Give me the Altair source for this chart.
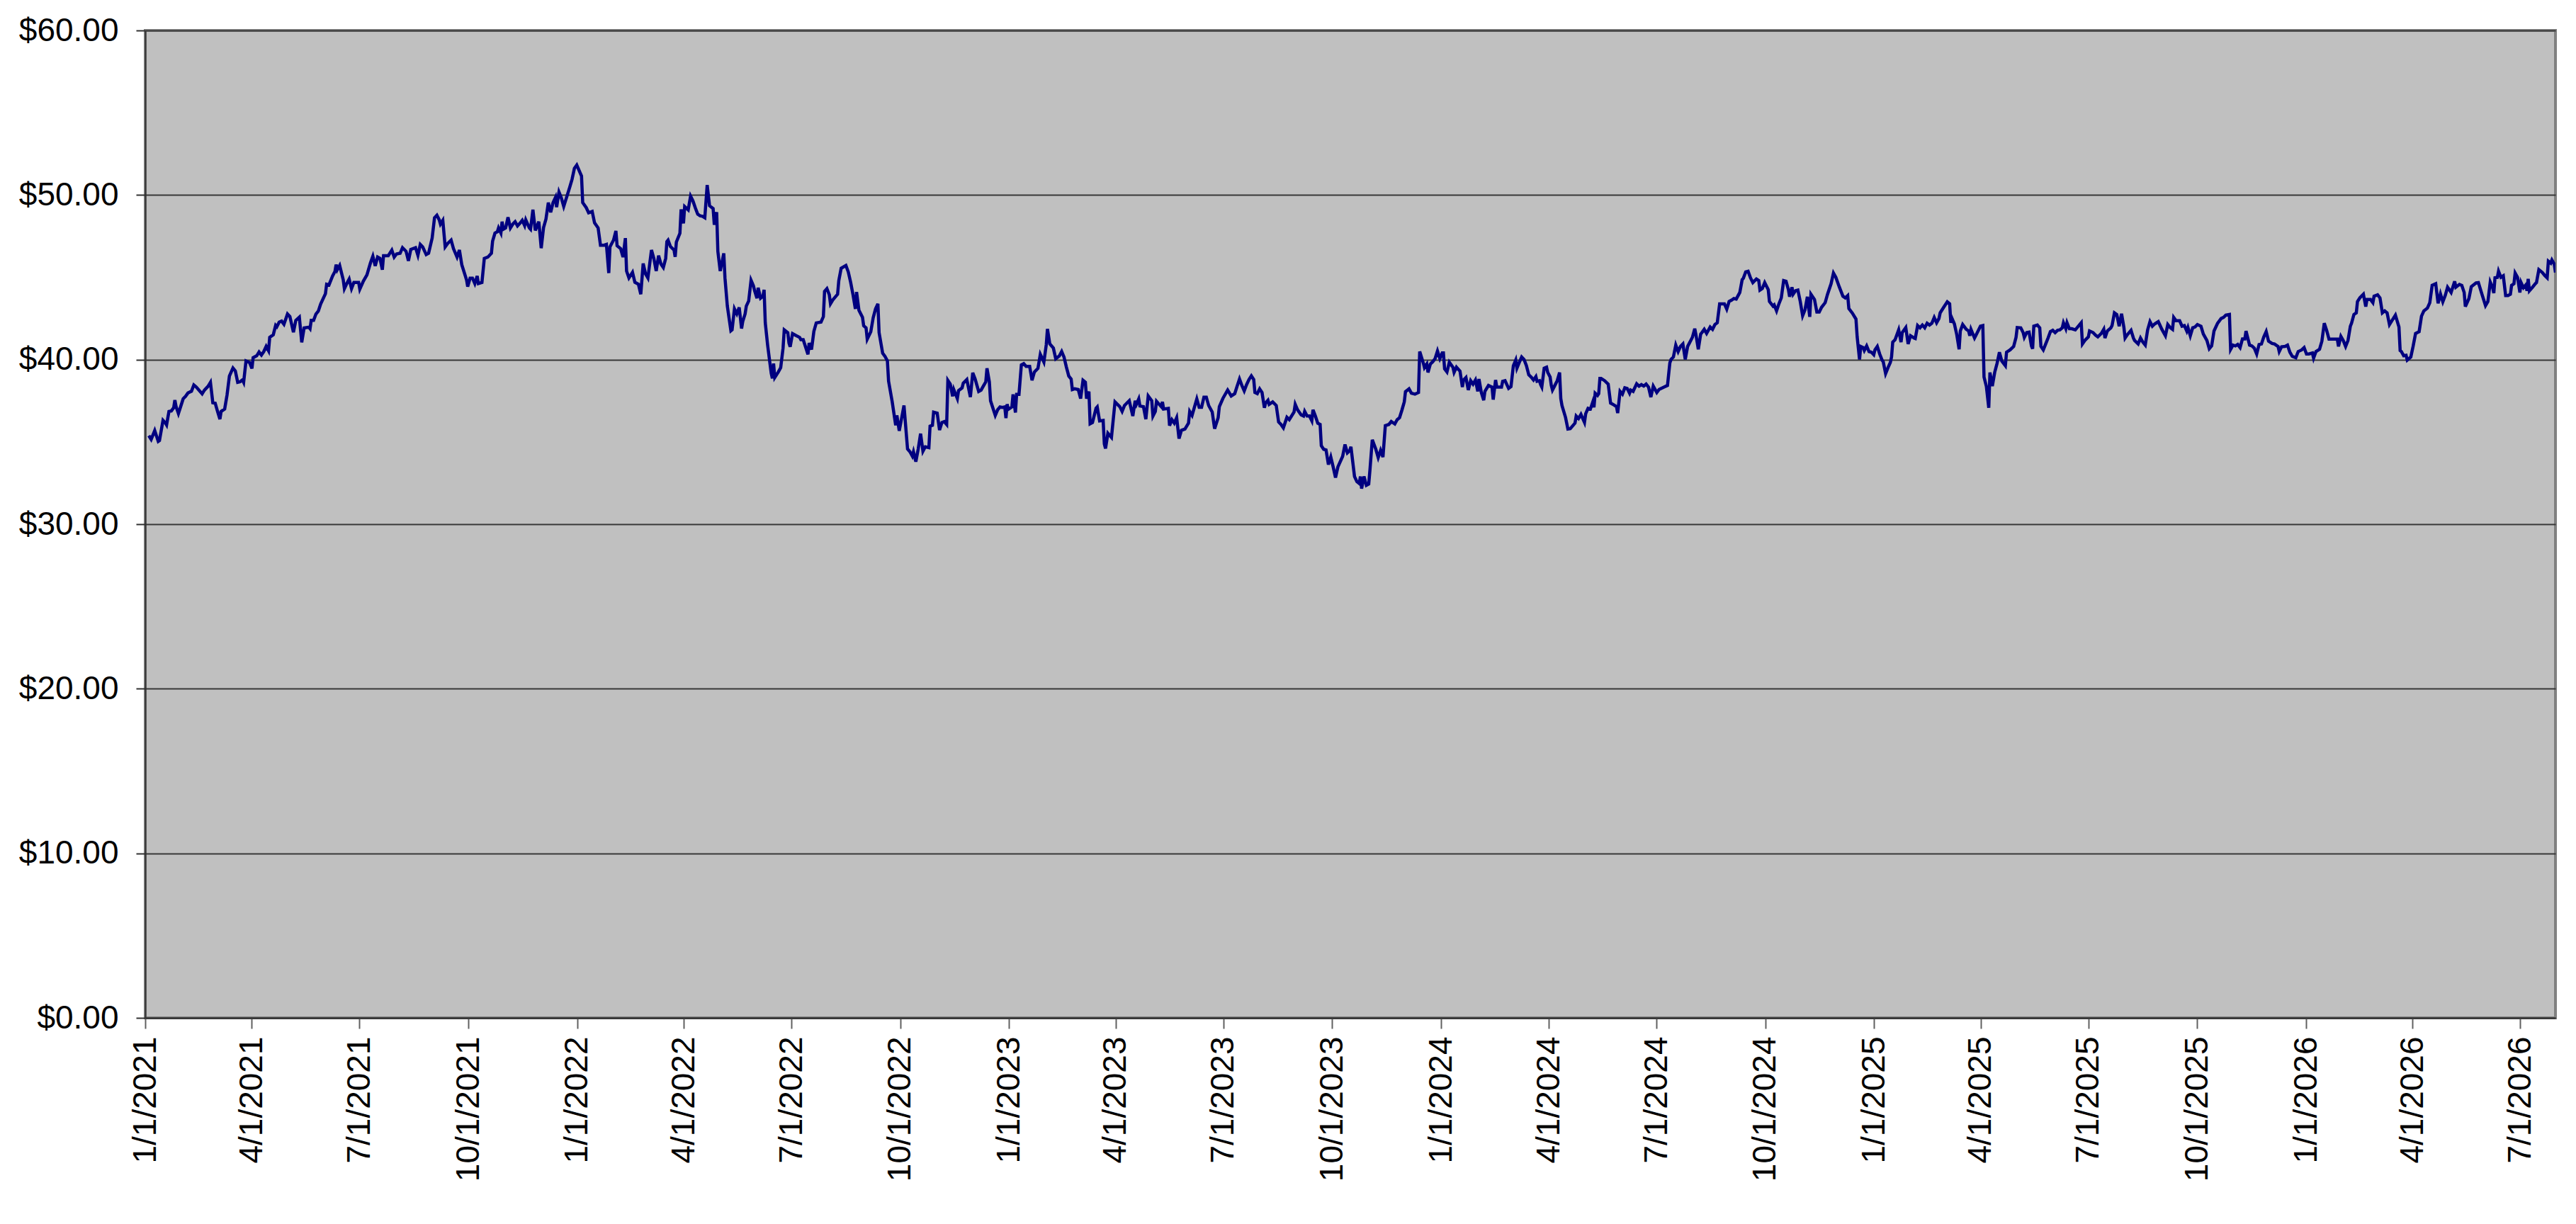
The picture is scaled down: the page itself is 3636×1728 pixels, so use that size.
import altair as alt
import pandas as pd

# Day offsets from 1/1/2021 and prices (five stretches)
days_a = [3,5,8,11,12,15,17,18,20,22,24,25,26,28,32,34,36,39,41,43,48,50,53,55,57,59,61,63,64,67,
          69,71,74,76,78,80,82,83,85,88,90,91,94,96,98,100,102,104,105,108,110,111,113,115,117,120,122,125,127,130,
          132,134,138,139,140,142,144,146,148,152,153,155,158,160,161,162,164,167,168,170,172,174,176,180,181,184,187,190,192,194,
          196,198,200,201,205,208,210,212,215,217,220,222,224,228,230,232,234,237,239,242,244,246,248,249,251,253,255,258,260,263,
          265,267,270,271,272,274,276,278,280,281,284,286,289,292,293,295,297,298,300,301,302,304,306,308,310,312,314,316,318,320,
          321,324,325,327,329,332,334,336,338,340,342,344,346,347,349,351,353,356,358,360,362,364,368,369,372,374,377,379,382,384,
          387,389,391,392,395,397,398,401,403]
price_a = [35.38,35.15,35.69,35.03,35.08,36.31,36.15,36.03,36.85,36.88,37.08,37.54,37.15,36.72,37.62,37.77,37.97,38.08,38.46,38.34,
           37.92,38.15,38.38,38.62,37.38,37.35,36.85,36.38,36.85,37.0,37.85,39.0,39.49,39.31,38.62,38.65,38.77,38.62,39.92,39.82,
           39.46,40.12,40.23,40.46,40.28,40.49,40.8,40.54,41.35,41.51,42.08,42.0,42.28,42.34,42.15,42.77,42.62,41.66,42.38,42.58,
           41.05,41.92,41.97,41.88,42.38,42.38,42.77,42.95,43.38,44.0,44.58,44.54,45.08,45.35,45.77,45.46,45.72,44.85,44.31,44.62,
           44.89,44.31,44.69,44.69,44.28,44.77,45.15,45.88,46.28,45.69,46.23,46.15,45.46,46.31,46.31,46.65,46.23,46.42,46.46,46.8,
           46.58,46.0,46.69,46.8,46.34,47.0,46.85,46.38,46.46,47.38,48.62,48.77,48.49,48.23,48.46,46.85,47.05,47.26,46.74,46.23,
           46.66,45.77,45.08,44.85,44.43,44.95,44.95,44.62,45.08,44.62,44.69,46.15,46.23,46.46,47.2,47.69,47.77,48.0,47.69,48.38,
           47.92,48.0,48.65,48.0,48.23,48.38,48.12,48.28,48.46,48.15,48.49,48.0,47.92,49.11,47.85,48.38,46.77,48.03,48.54,49.54,
           48.95,49.54,49.85,49.26,50.18,49.82,49.31,50.0,50.46,50.95,51.62,51.82,51.15,49.54,49.23,48.92,49.0,48.31,48.0,46.95,
           46.95,47.0,45.26,46.85,47.26,47.82,46.92,46.74,46.23]

days_b = [405,406,408,411,413,416,418,420,422,424,427,429,431,433,435,437,439,440,441,443,
          446,447,448,451,452,454,455,458,460,462,464,466,468,470,472,474,476,479,480,482,
          483,485,488,489,491,494,495,497,499,501,503,504,506,507,509,511,513,514,516,517,
          519,521,522,523,525,528,529,530,531,534,536,538,539,542,543,544,546,549,552,553,
          555,559,560,562,564,566,570,572,573,575,577,578,580,584,585,587,591,593,595,597,
          599,600,602,605,606,608,609,612,614,616,618,619,622,624,626,627,630,633,634,636,
          638,640,643,645,647,648,650,652,654,656,658,661,662,664,665,668,670,672,674,676,
          677,679,681,682,685,686,689,690,693,696,698,700,703,705,707,709,710,712,713,717,
          719,721,723,725,726,727,728,731,732,734,735,737,739,741,743,746,748,750,753,755,
          758,760,761,763,766,768,771,773,775,777,779,781,782,784,787,789,791,793,794,796,
          797,799,802,803,805,808,809,810]
price_b = [47.38,45.38,44.96,45.3,44.7,44.58,43.97,45.84,45.21,44.96,46.66,46.15,45.38,46.32,45.81,45.6,46.15,47.17,47.26,46.87,
           46.66,46.24,47.14,47.68,49.13,48.28,49.3,49.1,49.93,49.64,49.22,48.84,48.74,48.71,48.62,50.61,49.35,49.18,48.19,48.96,
           46.58,45.38,46.46,44.96,43.25,41.75,41.81,43.08,42.78,43.17,41.89,42.32,42.78,43.25,43.56,44.82,44.48,44.19,43.73,44.36,
           43.73,43.85,44.24,42.23,40.87,39.17,38.86,39.76,38.91,39.25,39.51,40.7,41.81,41.64,41.01,40.78,41.58,41.46,41.35,41.21,
           41.21,40.32,41.01,40.61,41.72,42.23,42.28,42.61,44.14,44.31,43.94,43.39,43.63,43.97,44.79,45.55,45.72,45.33,44.7,43.94,
           43.08,44.11,43.0,42.57,42.06,41.93,41.24,41.69,42.54,43.08,43.39,41.64,40.39,40.19,39.93,38.69,37.46,36.01,36.61,35.67,
           36.44,37.21,34.57,34.4,34.14,34.4,33.8,34.57,35.5,34.43,34.7,34.65,35.96,36.01,36.81,36.75,35.72,36.18,36.23,36.06,
           38.74,38.52,37.77,38.18,37.63,38.11,38.28,38.57,38.79,37.72,39.2,38.82,38.06,38.14,38.4,38.65,39.47,38.65,37.5,36.61,
           36.95,37.12,37.09,37.12,36.44,37.29,36.98,37.12,37.89,36.78,37.89,37.89,39.68,39.76,39.59,39.59,38.74,39.25,39.47,40.32,
           39.85,40.9,41.86,40.95,40.7,40.05,40.22,40.49,40.15,39.54,39.0,38.82,38.18,38.23,38.18,37.63,38.74,38.62,37.63,38.06,
           36.1,36.18,37.04,37.12,36.27,36.3,34.87,34.6]

days_c = [812,815,818,822,824,826,828,830,833,835,836,838,839,842,844,846,849,850,852,853,
          857,858,859,863,864,866,868,870,872,874,877,880,881,883,887,889,891,893,895,897,
          900,902,905,906,909,913,916,919,921,923,925,927,929,931,933,935,936,938,940,942,
          944,945,947,948,951,954,956,958,960,963,965,969,970,972,975,977,978,980,982,984,
          985,987,989,991,992,994,996,998,1000,1002,1004,1006,1010,1012,1014,1016,1017,1020,1022,1024,
          1025,1026,1028,1030,1032,1033,1035,1038,1040,1042,1044,1046,1049,1051,1054,1056,1058,1060,1062,1063,
          1066,1068,1071,1074,1075,1078,1079,1081,1082,1084,1086,1088,1090,1092,1094,1095,1096,1098,1100,1103,
          1104,1106,1109,1111,1112,1114,1116,1118,1120,1122,1124,1125,1127,1129,1130,1133,1136,1137,1139,1140,
          1144,1145,1147,1150,1152,1154,1156,1157,1159,1161,1163,1165,1167,1169,1171,1173,1174,1176,1177,1178,
          1180,1182,1183,1185,1186,1187,1189,1191,1193,1194,1195,1198,1200,1202,1206,1207,1209,1211,1214,1215,
          1217,1219,1221,1222,1223,1225,1226,1227]
price_c = [35.52,35.27,37.43,37.14,36.85,37.21,37.36,37.5,36.57,37.5,37.28,37.61,37.18,37.14,36.38,37.79,37.5,36.57,36.85,37.47,
           37.14,37.43,37.0,37.04,35.99,36.35,36.14,36.47,35.2,35.7,35.78,36.14,36.85,36.61,37.61,37.1,37.1,37.72,37.72,37.21,
           36.81,35.8,36.47,37.14,37.64,38.15,37.79,37.93,38.39,38.82,38.43,38.1,38.48,38.79,39.01,38.79,38.0,37.93,38.22,38.0,
           37.07,37.36,37.53,37.28,37.43,37.21,36.21,36.06,35.85,36.49,36.35,36.81,37.28,36.95,36.64,36.57,36.85,36.57,36.57,36.28,
           36.95,36.57,36.14,36.06,34.77,34.55,34.51,33.62,34.08,33.48,32.83,33.48,34.12,34.84,34.34,34.48,34.7,32.9,32.59,32.47,
           32.9,32.16,32.9,32.36,32.44,33.26,35.13,34.55,34.05,34.48,34.08,35.99,36.06,36.24,36.09,36.35,36.47,36.93,37.43,38.05,
           38.22,37.96,37.9,38.0,40.49,39.8,39.51,39.73,39.22,39.73,39.87,40.06,40.52,40.06,40.4,40.4,39.44,39.25,39.84,39.54,
           39.22,39.54,39.3,38.33,38.76,38.91,38.15,38.72,38.51,38.76,38.07,38.82,38.0,37.53,38.07,38.43,38.33,37.57,38.76,38.33,
           38.33,38.68,38.72,38.25,38.36,39.63,39.97,39.48,39.83,40.16,40.01,39.63,39.08,38.94,38.76,38.97,38.68,38.72,38.48,38.33,
           39.48,39.54,39.22,38.94,38.43,38.15,38.43,38.72,39.22,37.64,37.21,36.49,35.78,35.8,36.14,36.57,36.42,36.67,36.18,36.71,
           37.04,37.0,37.43,37.1,37.96,37.82,37.93,38.86]

days_d = [1228,1231,1234,1236,1239,1241,1242,1244,1246,1248,1250,1252,1253,1255,1258,1260,1262,1264,1266,1268,
          1270,1272,1275,1277,1281,1284,1286,1287,1289,1291,1293,1295,1297,1299,1301,1304,1305,1307,1308,1310,
          1312,1313,1315,1317,1320,1322,1324,1326,1328,1331,1332,1334,1336,1338,1340,1342,1345,1347,1348,1350,
          1352,1354,1356,1359,1361,1362,1364,1366,1369,1370,1373,1374,1376,1378,1380,1382,1384,1386,1387,1389,
          1390,1392,1394,1396,1398,1400,1402,1404,1405,1408,1410,1412,1414,1417,1419,1422,1424,1426,1429,1432,
          1434,1436,1437,1440,1443,1444,1446,1447,1449,1450,1452,1454,1456,1458,1459,1461,1463,1465,1466,1468,
          1470,1472,1473,1474,1476,1479,1481,1482,1485,1487,1489,1492,1493,1495,1497,1499,1501,1503,1505,1507,
          1509,1511,1513,1514,1517,1520,1522,1523,1524,1526,1528,1530,1531,1533,1536,1538,1539,1540,1543,1544,
          1546,1548,1550,1551,1553,1555,1556,1558,1560,1562,1564,1566,1569,1570,1573,1576,1578,1579,1582,1584,
          1585,1587,1589,1591,1592,1593,1596,1598,1599,1601,1603,1605,1607,1609,1611,1613,1615,1617,1618,1620,
          1621,1623,1625,1628,1630,1633,1634]
price_d = [38.86,38.72,38.51,37.36,37.24,37.14,36.75,38.07,37.9,38.29,38.25,37.96,38.15,38.07,38.53,38.39,38.48,38.39,38.51,38.33,
           37.72,38.39,38.0,38.19,38.33,38.43,39.8,40.01,40.16,40.88,40.49,40.8,40.95,40.01,40.8,41.21,41.35,41.88,41.52,40.63,
           41.55,41.64,41.84,41.59,41.98,41.84,42.13,42.24,43.39,43.39,43.39,43.07,43.53,43.61,43.71,43.68,44.08,44.86,44.94,45.33,
           45.37,44.97,44.68,44.9,44.8,44.22,44.32,44.68,44.25,43.53,43.25,43.32,42.96,43.39,43.75,44.8,44.76,44.25,43.82,44.4,
           43.97,44.18,44.22,43.53,42.67,43.03,43.82,42.6,43.97,43.65,42.89,42.89,43.18,43.46,43.97,44.61,45.26,45.0,44.4,43.85,
           43.75,43.89,43.1,42.82,42.46,41.38,40.01,40.8,40.73,40.55,40.83,40.49,40.45,40.3,40.59,40.8,40.34,39.97,39.87,39.15,
           39.51,39.83,40.16,41.06,41.21,41.81,41.06,41.64,41.95,40.95,41.45,41.31,41.28,42.07,41.93,42.1,41.93,42.21,42.1,42.21,
           42.56,42.24,42.5,42.84,43.18,43.51,43.39,42.24,42.5,42.17,41.52,40.63,41.74,42.13,41.84,41.74,41.45,41.84,41.31,41.45,
           41.74,42.03,42.07,38.94,38.36,37.07,39.22,38.39,39.22,39.77,40.45,39.91,39.63,40.45,40.59,40.8,41.35,41.95,41.93,41.64,
           41.35,41.64,41.67,40.83,40.66,42.03,42.1,41.93,40.8,40.59,40.95,41.31,41.7,41.78,41.64,41.78,41.81,41.93,42.24,41.88,
           42.24,41.88,41.88,41.81,41.98,42.24,40.95]

days_e = [1636,1639,1640,1643,1645,1647,1650,1652,1653,1655,1658,1659,1661,1663,1665,1667,1669,1670,1672,1675,
          1677,1678,1681,1683,1685,1687,1689,1691,1693,1695,1698,1701,1704,1706,1708,1710,1711,1713,1716,1718,
          1720,1722,1723,1725,1727,1729,1731,1734,1736,1739,1741,1743,1745,1748,1751,1753,1755,1758,1759,1761,
          1763,1765,1767,1769,1771,1772,1775,1777,1779,1781,1783,1785,1787,1789,1791,1794,1796,1799,1800,1802,
          1805,1807,1809,1811,1814,1816,1819,1821,1823,1825,1828,1829,1831,1834,1836,1838,1840,1842,1844,1847,
          1849,1850,1852,1854,1856,1858,1860,1861,1863,1865,1866,1868,1871,1873,1874,1877,1879,1880,1883,1885,
          1887,1889,1891,1893,1895,1898,1901,1902,1903,1905,1907,1908,1911,1913,1915,1918,1920,1922,1925,1927,
          1929,1932,1934,1936,1938,1940,1942,1945,1948,1949,1952,1954,1956,1957,1960,1962,1966,1968,1971,1974,
          1976,1978,1980,1981,1982,1984,1985,1987,1989,1991,1993,1995,1996,1998,1999,2001,2003,2004,2006,2008,
          2009,2010,2011,2014,2016,2017,2019,2022,2024,2026,2027,2029,2030,2032,2033]
price_e = [41.16,41.38,41.74,41.64,41.49,41.38,41.59,41.84,41.31,41.74,41.93,42.07,42.84,42.74,42.03,42.79,41.95,41.31,41.52,41.78,
           41.31,41.16,40.95,41.31,41.06,40.88,41.81,42.31,42.03,42.17,42.31,41.84,41.45,42.13,41.95,41.84,42.56,42.36,42.36,42.03,
           42.07,41.74,41.95,41.45,41.93,41.98,42.13,42.03,41.55,41.16,40.66,40.83,41.74,42.21,42.5,42.56,42.7,42.74,40.62,40.88,
           40.83,40.92,40.73,41.26,41.26,41.74,40.88,40.83,40.69,40.34,40.92,40.95,41.38,41.7,41.12,40.98,40.95,40.8,40.49,40.78,
           40.8,40.88,40.45,40.2,40.11,40.49,40.59,40.73,40.34,40.34,40.4,40.09,40.49,40.63,41.12,42.21,41.78,41.24,41.24,41.24,
           41.24,40.8,41.41,41.16,40.8,41.16,42.03,42.21,42.74,42.84,43.53,43.75,43.97,43.22,43.65,43.65,43.46,43.85,43.94,43.75,
           42.84,42.96,42.84,42.13,42.36,42.7,41.98,40.55,40.49,40.23,40.26,39.97,40.16,40.83,41.59,41.7,42.64,42.96,43.13,43.46,
           44.51,44.61,43.42,43.99,43.51,43.89,44.4,44.08,44.76,44.4,44.57,44.51,44.08,43.22,43.71,44.43,44.66,44.68,43.97,43.28,
           43.53,44.71,44.37,44.04,44.97,45.0,45.37,45.0,45.09,43.89,43.89,43.97,44.51,44.61,45.26,45.0,44.08,44.68,44.37,44.54,
           44.18,44.9,44.18,44.43,44.61,44.68,45.47,45.29,45.11,44.97,45.98,45.86,46.05,45.8,45.29]

# quarterly tick labels of the date axis
tick_years = [2021, 2022, 2023, 2024, 2025, 2026]
tick_months = [1, 4, 7, 10]
price_ticks = [0, 10, 20, 30, 40, 50, 60]

# read-off calibration: pixel-to-day factor of the reference axis
DAY_FACTOR = 1.0018

rows = []
for dl, pl in [(days_a, price_a), (days_b, price_b), (days_c, price_c), (days_d, price_d), (days_e, price_e)]:
    for d, p in zip(dl, pl):
        rows.append((d * DAY_FACTOR, p))
df = pd.DataFrame(rows, columns=["day", "price"])
start = pd.Timestamp("2021-01-01")
df["date"] = start + pd.to_timedelta(df["day"], unit="D")
df["date"] = df["date"].dt.strftime("%Y-%m-%dT%H:%M:%S")
df = df[["date", "price"]]

last = pd.Timestamp(df["date"].iloc[-1])
tick_vals = [alt.DateTime(year=y, month=m, date=1)
             for y in tick_years for m in tick_months
             if pd.Timestamp(year=y, month=m, day=1) <= last]

FONT = "Liberation Sans"

chart = alt.Chart(df).mark_line(color="#000080", strokeWidth=4.5, clip=True).encode(
    x=alt.X("date:T",
            scale=alt.Scale(domain=[alt.DateTime(year=2021, month=1, date=1),
                                    alt.DateTime(year=last.year, month=last.month, date=last.day,
                                                 hours=last.hour, minutes=last.minute)]),
            axis=alt.Axis(values=tick_vals, format="%-m/%-d/%Y", title=None, grid=False,
                          labelAngle=270, labelAlign="right", labelBaseline="middle",
                          labelFlush=False, labelOverlap=False, labelLimit=0,
                          labelFont=FONT, labelFontSize=46, labelColor="black", labelPadding=11,
                          tickColor="#606060", tickWidth=2, tickSize=15,
                          domainColor="#303030", domainWidth=2)),
    y=alt.Y("price:Q",
            scale=alt.Scale(domain=[0, 60], nice=False, zero=True),
            axis=alt.Axis(values=price_ticks, format="$.2f", title=None,
                          grid=True, gridColor="#383838", gridWidth=2,
                          labelFont=FONT, labelFontSize=46, labelColor="black", labelPadding=25,
                          labelFlush=False, labelOverlap=False, labelLimit=0,
                          tickColor="#303030", tickWidth=2, tickSize=13,
                          domainColor="#303030", domainWidth=2)),
).properties(
    width=3402,
    height=1394,
    autosize=alt.AutoSizeParams(type="none"),
    padding={"left": 197, "top": 35, "right": 20, "bottom": 260},
).configure(
    background="white",
).configure_view(
    fill="#C0C0C0",
    stroke="#808080",
    strokeWidth=4,
)

chart.save("out.html", embed_options={"renderer": "svg", "actions": False})
